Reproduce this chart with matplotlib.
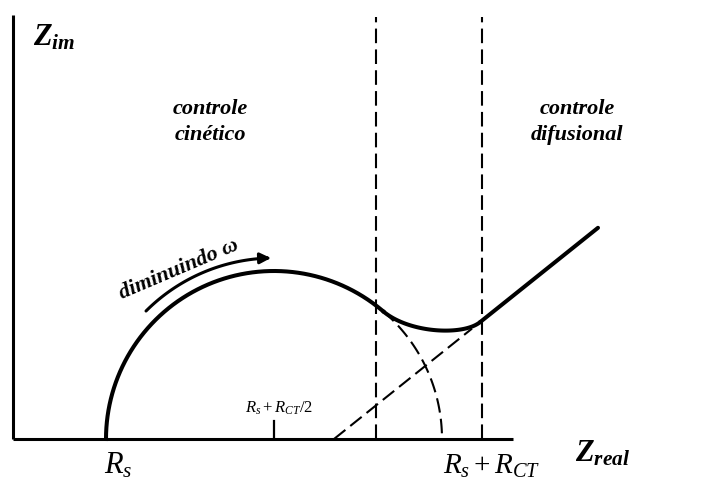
import numpy as np
import matplotlib
matplotlib.use('Agg')
import matplotlib.pyplot as plt
from matplotlib.path import Path
from matplotlib.patches import FancyArrowPatch

plt.rcParams['mathtext.fontset'] = 'custom'
plt.rcParams['mathtext.rm'] = 'Liberation Serif'
plt.rcParams['mathtext.it'] = 'Liberation Serif:italic'
plt.rcParams['mathtext.bf'] = 'Liberation Serif:bold'
plt.rcParams['mathtext.bfit'] = 'Liberation Serif:italic:bold'

# Nyquist sketch values (arbitrary impedance units)
rs = 93.0            # solution resistance
rct = 336.0          # charge transfer resistance
axis_len = [500.0, 424.0]   # length of Z_real and Z_im axes

# Warburg (diffusion) line: Z_im = slope * (Z_real - intercept)
warburg_slope = 0.8
warburg_intercept = 321.0
warburg_end = 585.0

# where the measured curve leaves the semicircle / joins the Warburg line
knee_start = 370.0
knee_end = 467.0
knee_handle = [34.0, 22.0]

# limits of the two control regions
region_bounds = [363.0, 469.0]

# arrow "diminuindo omega"
arrow_radius = 181.0
arrow_angles = [135.0, 91.0]

center = rs + rct / 2
radius = rct / 2

fig = plt.figure(figsize=(7.01, 4.84), dpi=100)
ax = fig.add_axes([0, 0, 1, 1])
ax.set_xlim(-13, 688)
ax.set_ylim(-45, 439)
ax.axis('off')

# axes
ax.plot([0, 0], [0, axis_len[1]], color='black', lw=2.2, solid_capstyle='butt')
ax.plot([0, axis_len[0]], [0, 0], color='black', lw=2.2, solid_capstyle='butt')

# tick at Rs + Rct/2
ax.plot([center, center], [0, 18], color='black', lw=1.6)

# semicircle, solid part
th0 = np.arccos((knee_start - center) / radius)
th = np.linspace(np.pi, th0, 200)
ax.plot(center + radius * np.cos(th), radius * np.sin(th), color='black', lw=2.9)

# semicircle, dashed continuation down to Rs + Rct
th = np.linspace(th0, 0, 60)
ax.plot(center + radius * np.cos(th), radius * np.sin(th), color='black', lw=1.5,
        dashes=(7, 3))

# transition between the arc and the Warburg line (cubic bezier)
p0 = np.array([knee_start, radius * np.sin(th0)])
t0 = np.array([np.sin(th0), -np.cos(th0)])
p3 = np.array([knee_end, warburg_slope * (knee_end - warburg_intercept)])
t3 = np.array([1.0, warburg_slope]) / np.hypot(1.0, warburg_slope)
p1 = p0 + knee_handle[0] * t0
p2 = p3 - knee_handle[1] * t3
t = np.linspace(0, 1, 100)[:, None]
bez = ((1 - t) ** 3 * p0 + 3 * (1 - t) ** 2 * t * p1
       + 3 * (1 - t) * t ** 2 * p2 + t ** 3 * p3)
ax.plot(bez[:, 0], bez[:, 1], color='black', lw=2.9, solid_capstyle='round')

# Warburg line, solid and dashed extrapolation to the axis
xw = np.array([knee_end, warburg_end])
ax.plot(xw, warburg_slope * (xw - warburg_intercept), color='black', lw=2.9,
        solid_capstyle='round')
xw = np.array([warburg_intercept, knee_end - 8])
ax.plot(xw, warburg_slope * (xw - warburg_intercept), color='black', lw=1.5,
        dashes=(7, 3))

# vertical boundaries
for xb in region_bounds:
    ax.plot([xb, xb], [0, axis_len[1] - 2], color='black', lw=1.5, dashes=(7, 3))

# curved arrow
a = np.radians(np.linspace(arrow_angles[0], arrow_angles[1], 50))
verts = np.column_stack([center + arrow_radius * np.cos(a), arrow_radius * np.sin(a)])
arrow = FancyArrowPatch(path=Path(verts), arrowstyle='-|>', mutation_scale=16,
                        lw=2.2, color='black')
ax.add_patch(arrow)

# labels
ax.text(20, 393, r'$\mathbfit{Z}_{\mathbfit{im}}$', fontsize=22, ha='left', va='baseline')
ax.text(562, -23, r'$\mathbfit{Z}_{\mathbfit{real}}$', fontsize=22, ha='left',
        va='baseline')
ax.text(91, -35, r'$R_s$', fontsize=22, ha='left', va='baseline')
ax.text(430, -35, r'$R_s + R_{CT}$', fontsize=21, ha='left', va='baseline')
ax.text(232, 26, r'$R_s + R_{CT}/2$', fontsize=12, ha='left', va='baseline')

ax.text(197, 317, 'controle\ncinético', fontsize=16, family='Liberation Serif',
        style='italic', weight='bold', ha='center', va='center', linespacing=1.35)
ax.text(564, 317, 'controle\ndifusional', fontsize=16, family='Liberation Serif',
        style='italic', weight='bold', ha='center', va='center', linespacing=1.35)
ax.text(166, 170, 'diminuindo ω', fontsize=16, family='Liberation Serif',
        style='italic', weight='bold', ha='center', va='center', rotation=23)

fig.savefig('out.png', dpi=100)
